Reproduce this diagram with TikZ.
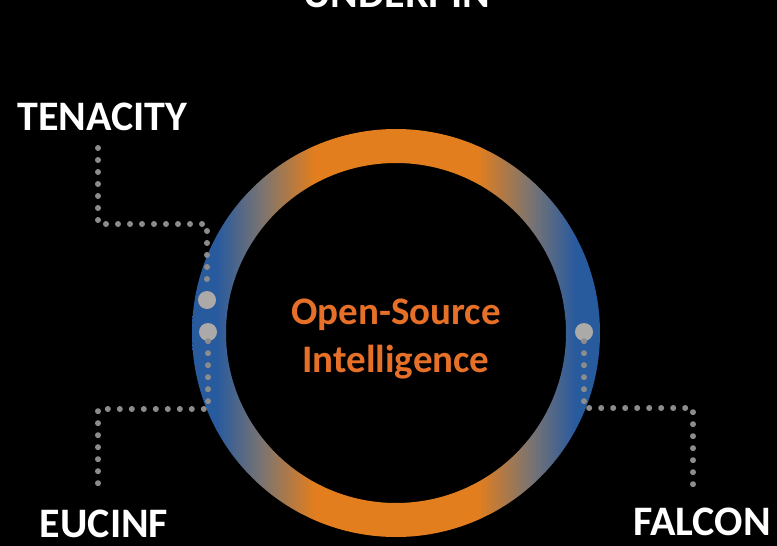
\documentclass[tikz,border=0pt]{standalone}
\usepackage{fontspec}
\setmainfont{Carlito}
\definecolor{rblue}{RGB}{40,90,158}
\definecolor{rgray}{RGB}{122,116,114}
\definecolor{rorange}{RGB}{226,126,30}
\definecolor{torange}{RGB}{230,112,40}
\definecolor{dotgray}{RGB}{140,140,140}
\definecolor{biggray}{RGB}{172,170,168}
\pgfdeclarehorizontalshading{ringshade}{100bp}{color(0bp)=(rblue); color(28bp)=(rblue); color(33.5bp)=(rgray); color(40bp)=(rorange); color(60bp)=(rorange); color(66.5bp)=(rgray); color(72bp)=(rblue); color(100bp)=(rblue)}
\begin{document}
\begin{tikzpicture}[x=1pt,y=-1pt,
  lbl/.style={font=\bfseries\fontsize{42}{50}\selectfont, text=white, anchor=base, inner sep=0pt},
  centertext/.style={font=\bfseries\fontsize{39}{48}\selectfont, text=torange, align=center, inner sep=0pt},
  bigdot/.style={circle, fill=biggray, minimum size=18pt, inner sep=0pt},
  dotline/.style={draw=dotgray, line width=6pt, line cap=round, dash pattern=on 0pt off 12pt}]
\fill[black] (0,0) rectangle (777,546);
\useasboundingbox (0,0) rectangle (777,546);
% ring
\shade[shading=ringshade, even odd rule] (396,333) circle [radius=204pt] (396,333) circle [radius=170pt];
% centre text
\node[centertext] (osi) at (396,339) {Open-Source\\Intelligence};
% labels
\node[lbl] (und) at (396.5,7) {UNDERPIN};
\node[lbl] (ten) at (102.5,130) {TENACITY};
\node[lbl] (euc) at (104,537) {EUCINF};
\node[lbl] (fal) at (702,535) {FALCON};
% big dots
\node[bigdot] (d1) at (207,300) {};
\node[bigdot] (d2) at (208,332) {};
\node[bigdot] (d3) at (584,332) {};
% corner coordinates
\coordinate (t0) at (98,148);
\coordinate (t1) at (207,224);
\coordinate (e1) at (98,409);
\coordinate (e2) at (98,486);
\coordinate (f1) at (693,408);
\coordinate (f2) at (693,485);
% dotted connectors
\draw[dotline] (t0) |- (t1) -- (d1);
\draw[dotline] (d2) |- (e1) -- (e2);
\draw[dotline] (d3) |- (f1) -- (f2);
\end{tikzpicture}
\end{document}
